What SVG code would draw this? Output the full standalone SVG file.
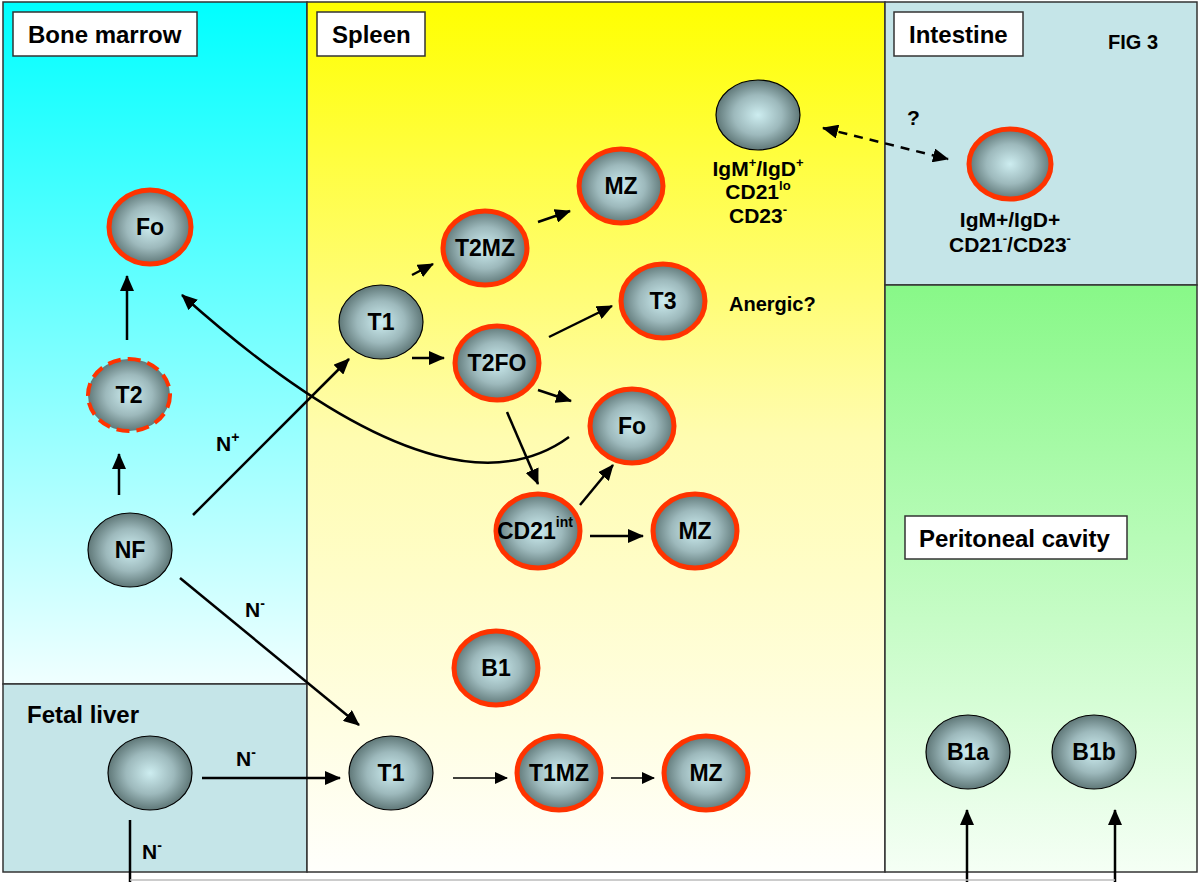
<svg xmlns="http://www.w3.org/2000/svg" width="1199" height="882" viewBox="0 0 1199 882">
<defs>
<style>
.lbl{font-family:"Liberation Sans",Arial,sans-serif;font-weight:bold;fill:#000}
.cell{font-size:23px;text-anchor:middle}
.title{font-size:24px}
.box{fill:#fff;stroke:#333;stroke-width:1.5}
.panel{stroke:#333;stroke-width:1.5}
.gc{fill:url(#cellg);stroke:#000;stroke-width:1.2}
.rc{fill:url(#cellg);stroke:#FF3300;stroke-width:5}
.dc{fill:url(#cellg);stroke:#FF3300;stroke-width:4;stroke-dasharray:13 7}
.ar{fill:none;stroke:#000;stroke-width:2.5;marker-end:url(#ah)}
.tn{fill:none;stroke:#000;stroke-width:1.6;marker-end:url(#ahs)}
.ds{fill:none;stroke:#000;stroke-width:2.5;stroke-dasharray:9 7;marker-start:url(#ah2);marker-end:url(#ah2)}
.ln{fill:none;stroke:#000;stroke-width:2.5}
</style>
<radialGradient id="cellg" cx="50%" cy="50%" r="52%">
<stop offset="0" stop-color="#CDEDF0"/>
<stop offset="0.55" stop-color="#9DB9BC"/>
<stop offset="1" stop-color="#5A7272"/>
</radialGradient>
<linearGradient id="bmg" x1="0" y1="0" x2="0" y2="1">
<stop offset="0" stop-color="#00FFFF"/>
<stop offset="1" stop-color="#F0FFFF"/>
</linearGradient>
<linearGradient id="spg" x1="0" y1="0" x2="0" y2="1">
<stop offset="0" stop-color="#FFFF00"/>
<stop offset="0.5" stop-color="#FFFCB0"/>
<stop offset="1" stop-color="#FFFFFC"/>
</linearGradient>
<linearGradient id="peg" x1="0" y1="0" x2="0" y2="1">
<stop offset="0" stop-color="#88F888"/>
<stop offset="1" stop-color="#F5FFF5"/>
</linearGradient>
<marker id="ah" viewBox="0 0 16 14" refX="15" refY="7" markerWidth="16" markerHeight="14" markerUnits="userSpaceOnUse" orient="auto">
<path d="M0,0 L16,7 L0,14 z" fill="#000"/>
</marker>
<marker id="ah2" viewBox="0 0 16 14" refX="15" refY="7" markerWidth="16" markerHeight="14" markerUnits="userSpaceOnUse" orient="auto-start-reverse">
<path d="M0,0 L16,7 L0,14 z" fill="#000"/>
</marker>
<marker id="ahs" viewBox="0 0 13 12" refX="12" refY="6" markerWidth="13" markerHeight="12" markerUnits="userSpaceOnUse" orient="auto">
<path d="M0,0 L13,6 L0,12 z" fill="#000"/>
</marker>
</defs>
<rect width="1199" height="882" fill="#fff"/>
<g id="panels">
<rect class="panel" x="3" y="2" width="304" height="682" fill="url(#bmg)"/>
<rect class="panel" x="3" y="684" width="304" height="188" fill="#C5E5E8"/>
<rect class="panel" x="307" y="2" width="578" height="870" fill="url(#spg)"/>
<rect class="panel" x="885" y="2" width="312" height="283" fill="#C5E5E8"/>
<rect class="panel" x="885" y="285" width="312" height="587" fill="url(#peg)"/>
</g>
<g id="titles">
<rect class="box" x="13" y="12" width="184" height="44"/>
<text class="lbl title" x="28" y="43">Bone marrow</text>
<rect class="box" x="317" y="12" width="108" height="44"/>
<text class="lbl title" x="332" y="43">Spleen</text>
<rect class="box" x="894" y="12" width="129" height="44"/>
<text class="lbl title" x="909" y="43">Intestine</text>
<text class="lbl" x="1108" y="49" font-size="20">FIG 3</text>
<rect class="box" x="905" y="516" width="222" height="43"/>
<text class="lbl title" x="919" y="547">Peritoneal cavity</text>
<text class="lbl title" x="27" y="723">Fetal liver</text>
</g>
<g id="connectors">
<line class="ar" x1="127" y1="340" x2="127" y2="276"/>
<line class="ar" x1="119" y1="495" x2="119" y2="454"/>
<line class="ar" x1="193" y1="515" x2="349" y2="359"/>
<path class="ar" d="M569,437 C510,480 400,490 182,295"/>
<line class="ar" x1="412" y1="275" x2="433" y2="264"/>
<line class="ar" x1="538" y1="222" x2="570" y2="211"/>
<line class="ar" x1="412" y1="358" x2="444" y2="358"/>
<line class="ar" x1="549" y1="337" x2="612" y2="306"/>
<line class="ar" x1="538" y1="390" x2="571" y2="401"/>
<line class="ar" x1="507" y1="412" x2="538" y2="484"/>
<line class="ar" x1="580" y1="505" x2="613" y2="465"/>
<line class="ar" x1="590" y1="536" x2="643" y2="536"/>
<line class="ar" x1="180" y1="578" x2="359" y2="725"/>
<line class="ar" x1="202" y1="778" x2="340" y2="778"/>
<line class="tn" x1="453" y1="778" x2="507" y2="778"/>
<line class="tn" x1="611" y1="778" x2="654" y2="778"/>
<line class="ds" x1="823" y1="128" x2="948" y2="159"/>
<line class="ln" x1="130" y1="820" x2="130" y2="882"/>
<line class="ar" x1="967" y1="882" x2="967" y2="810"/>
<line class="ar" x1="1115" y1="882" x2="1115" y2="810"/>
<line fill="none" stroke="#BBBBBB" stroke-width="1.5" x1="130" y1="880" x2="1115" y2="880"/>
</g>
<g id="edge-labels">
<text class="lbl" x="216" y="451" font-size="21">N<tspan font-size="14" dy="-9">+</tspan></text>
<text class="lbl" x="245" y="617" font-size="21">N<tspan font-size="14" dy="-9">-</tspan></text>
<text class="lbl" x="236" y="766" font-size="21">N<tspan font-size="14" dy="-9">-</tspan></text>
<text class="lbl" x="142" y="859" font-size="21">N<tspan font-size="14" dy="-9">-</tspan></text>
<text class="lbl" x="907" y="125" font-size="21">?</text>
<text class="lbl" x="729" y="311" font-size="20">Anergic?</text>
</g>
<g id="bm-fo"><ellipse class="rc" cx="150" cy="227" rx="41" ry="37"/><text class="lbl cell" x="150" y="235">Fo</text></g>
<g id="bm-t2"><ellipse class="dc" cx="129" cy="395" rx="41" ry="36"/><text class="lbl cell" x="129" y="403">T2</text></g>
<g id="bm-nf"><ellipse class="gc" cx="130" cy="550" rx="42" ry="37"/><text class="lbl cell" x="130" y="558">NF</text></g>
<g id="fl-cell"><ellipse class="gc" cx="150" cy="773" rx="42" ry="37"/></g>
<g id="sp-t1"><ellipse class="gc" cx="381" cy="322" rx="42" ry="37"/><text class="lbl cell" x="381" y="330">T1</text></g>
<g id="sp-t2mz"><ellipse class="rc" cx="485" cy="248" rx="42" ry="37"/><text class="lbl cell" x="485" y="256">T2MZ</text></g>
<g id="sp-mz1"><ellipse class="rc" cx="621" cy="186" rx="42" ry="37"/><text class="lbl cell" x="621" y="194">MZ</text></g>
<g id="sp-t3"><ellipse class="rc" cx="663" cy="301" rx="42" ry="37"/><text class="lbl cell" x="663" y="309">T3</text></g>
<g id="sp-t2fo"><ellipse class="rc" cx="497" cy="363" rx="42" ry="37"/><text class="lbl cell" x="497" y="371">T2FO</text></g>
<g id="sp-fo"><ellipse class="rc" cx="632" cy="426" rx="42" ry="37"/><text class="lbl cell" x="632" y="434">Fo</text></g>
<g id="sp-cd21"><ellipse class="rc" cx="538" cy="531" rx="42" ry="37"/><text class="lbl" x="497" y="539" font-size="23">CD21<tspan font-size="14" dy="-12">int</tspan></text></g>
<g id="sp-mz2"><ellipse class="rc" cx="695" cy="531" rx="42" ry="37"/><text class="lbl cell" x="695" y="539">MZ</text></g>
<g id="sp-b1"><ellipse class="rc" cx="496" cy="668" rx="42" ry="37"/><text class="lbl cell" x="496" y="676">B1</text></g>
<g id="sp-t1b"><ellipse class="gc" cx="391" cy="773" rx="42" ry="37"/><text class="lbl cell" x="391" y="781">T1</text></g>
<g id="sp-t1mz"><ellipse class="rc" cx="559" cy="773" rx="42" ry="37"/><text class="lbl cell" x="559" y="781">T1MZ</text></g>
<g id="sp-mz3"><ellipse class="rc" cx="706" cy="773" rx="42" ry="37"/><text class="lbl cell" x="706" y="781">MZ</text></g>
<g id="sp-igm"><ellipse class="gc" cx="758" cy="115" rx="42" ry="35"/>
<text class="lbl" text-anchor="middle" font-size="21"><tspan x="758" y="176">IgM<tspan font-size="13" dy="-9">+</tspan><tspan dy="9">/IgD</tspan><tspan font-size="13" dy="-9">+</tspan></tspan><tspan x="758" y="199">CD21<tspan font-size="13" dy="-9">lo</tspan></tspan><tspan x="758" y="223">CD23<tspan font-size="13" dy="-9">-</tspan></tspan></text></g>
<g id="in-cell"><ellipse class="rc" cx="1010" cy="164" rx="41" ry="35"/>
<text class="lbl" text-anchor="middle" font-size="21"><tspan x="1010" y="227">IgM+/IgD+</tspan><tspan x="1010" y="252">CD21<tspan font-size="13" dy="-9">-</tspan><tspan dy="9">/CD23</tspan><tspan font-size="13" dy="-9">-</tspan></tspan></text></g>
<g id="pc-b1a"><ellipse class="gc" cx="968" cy="752" rx="42" ry="37"/><text class="lbl cell" x="968" y="760">B1a</text></g>
<g id="pc-b1b"><ellipse class="gc" cx="1094" cy="752" rx="42" ry="37"/><text class="lbl cell" x="1094" y="760">B1b</text></g>
</svg>
